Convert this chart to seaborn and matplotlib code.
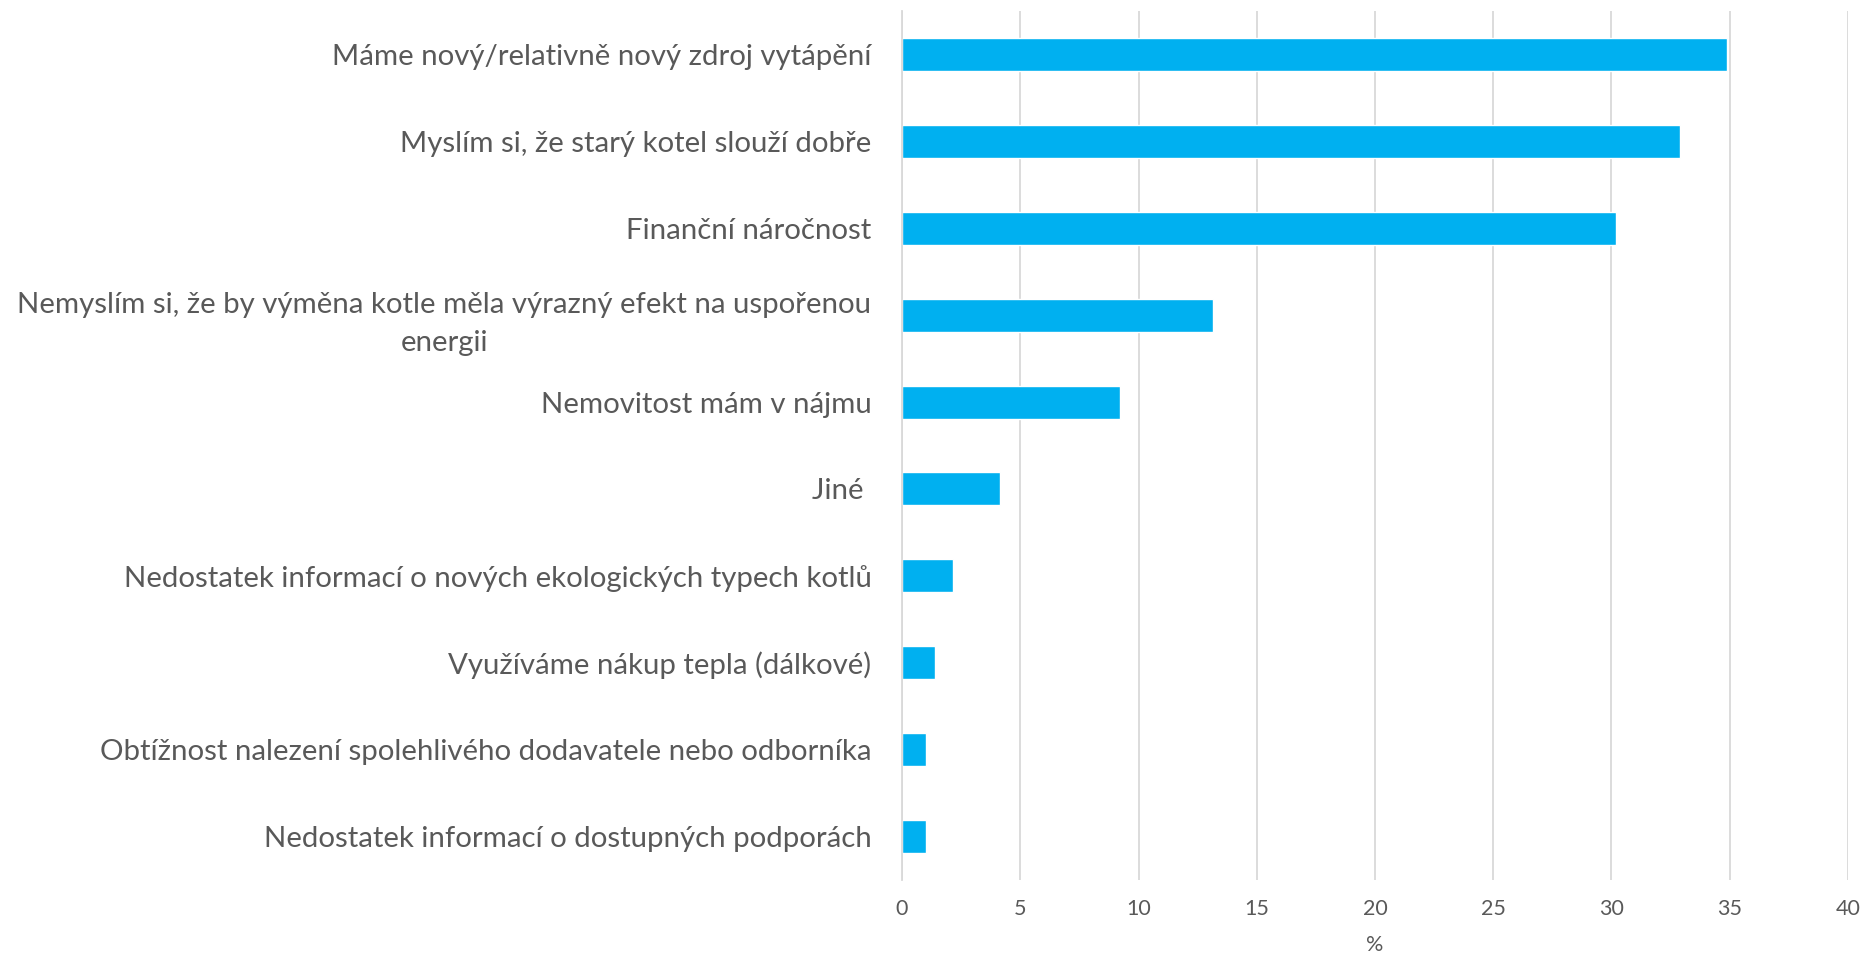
import pandas as pd
import seaborn as sns
import matplotlib.pyplot as plt

# Данные
categories = [
    "Máme nový/relativně nový zdroj vytápění",
    "Myslím si, že starý kotel slouží dobře",
    "Finanční náročnost",
    "Nemyslím si, že by výměna kotle měla výrazný efekt na uspořenou\nenergii",
    "Nemovitost mám v nájmu",
    "Jiné ",
    "Nedostatek informací o nových ekologických typech kotlů",
    "Využíváme nákup tepla (dálkové)",
    "Obtížnost nalezení spolehlivého dodavatele nebo odborníka",
    "Nedostatek informací o dostupných podporách",
]
values = [34.9, 32.9, 30.2, 13.15, 9.23, 4.13, 2.17, 1.38, 1.0, 1.0]
x_ticks = [0, 5, 10, 15, 20, 25, 30, 35, 40]

df = pd.DataFrame({"kategorie": categories, "procenta": values})

sns.set_style("white")
plt.rcParams["font.family"] = ["Lato", "DejaVu Sans"]

fig = plt.figure(figsize=(18.61, 9.57), dpi=100)
ax = fig.add_axes([0.4847, 0.0805, 0.5083, 0.908])

sns.barplot(data=df, x="procenta", y="kategorie", color="#00B0F0",
            saturation=1, width=0.38, ax=ax)

ax.set_xlim(0, 40)
ax.set_xticks(x_ticks)
ax.grid(axis="x", color="#D9D9D9", linewidth=1.3)
ax.set_axisbelow(True)
for s in ["top", "right", "bottom"]:
    ax.spines[s].set_visible(False)
ax.spines["left"].set_color("#D9D9D9")
ax.spines["left"].set_linewidth(1.3)

ax.tick_params(axis="both", length=0, colors="#595959")
ax.tick_params(axis="y", labelsize=21.2, pad=22)
ax.tick_params(axis="x", labelsize=15.5, pad=14)
for t in ax.get_yticklabels():
    t.set_multialignment("center")
    t.set_linespacing(1.6)

ax.set_ylabel("")
ax.set_xlabel("%", fontsize=15.5, color="#595959", labelpad=11)

plt.savefig("out.png", dpi=100)
